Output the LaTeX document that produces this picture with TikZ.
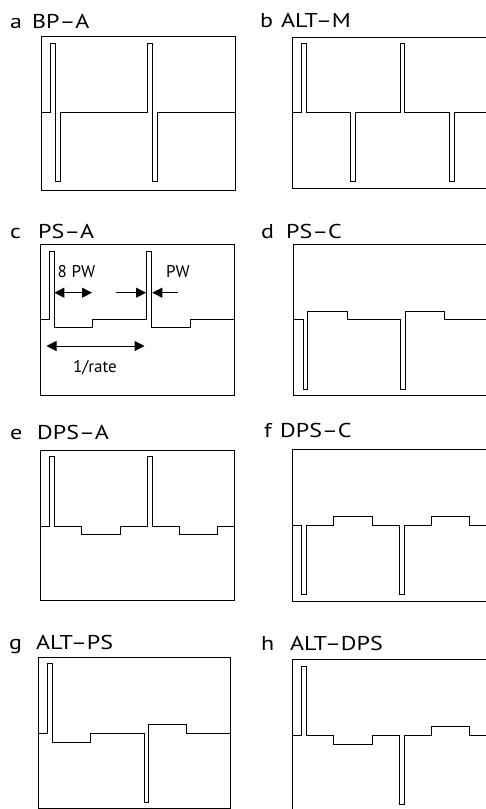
\documentclass[tikz,border=0pt]{standalone}
\usepackage{fontspec}
\setmainfont{PT Sans}
\newfontfamily\ttlfont[FakeStretch=1.2]{PT Sans}
\usetikzlibrary{arrows.meta}
\tikzset{
  frame/.style={line width=1pt},
  wave/.style={line width=1pt, line join=miter},
  ttl/.style={anchor=base west, inner sep=0pt, font=\ttlfont\fontsize{20}{22}\selectfont},
  lbl/.style={inner sep=0pt, font=\fontsize{17}{19}\selectfont},
  dim/.style={line width=1pt, -{Triangle[length=10pt,width=10pt]}},
  ddim/.style={line width=1pt, {Triangle[length=10pt,width=10pt]}-{Triangle[length=10pt,width=10pt]}}
}
\begin{document}
\begin{tikzpicture}[x=1pt,y=-1pt]
\useasboundingbox (0,0) rectangle (486,809);
\clip (0,0) rectangle (486,809);
% ---- a
\node[ttl] (la) at (10,28) {a};
\node[ttl] (ta) at (32,28) {BP–A};
\draw[frame] (41.3,36.7) rectangle (235,190);
\draw[wave] (41.3,112.7) -- (50.7,112.7) -- (50.7,43.3) -- (55.7,43.3) -- (55.7,181.7) -- (60.7,181.7) -- (60.7,112.7)
  -- (147.3,112.7) -- (147.3,43.3) -- (152.3,43.3) -- (152.3,181.7) -- (157.3,181.7) -- (157.3,112.7) -- (235,112.7);
% ---- b
\node[ttl] (lb) at (260,27) {b};
\node[ttl] (tb) at (281,27) {ALT–M};
\draw[frame] (492,37.3) -- (292.3,37.3) -- (292.3,188.7) -- (492,188.7);
\draw[wave] (292.3,112.7) -- (301.7,112.7) -- (301.7,43.3) -- (306,43.3) -- (306,112.7) -- (350.7,112.7) -- (350.7,181.7) -- (355.3,181.7) -- (355.3,112.7)
  -- (400,112.7) -- (400,43.3) -- (404.7,43.3) -- (404.7,112.7) -- (449.3,112.7) -- (449.3,181.7) -- (454.3,181.7) -- (454.3,112.7) -- (492,112.7);
% ---- c
\node[ttl] (lc) at (10,238) {c};
\node[ttl] (tc) at (38,238) {PS–A};
\draw[frame] (40.3,244.3) rectangle (234.3,395);
\draw[wave] (40.3,319) -- (49.3,319) -- (49.3,251) -- (54,251) -- (54,327.3) -- (92.7,327.3) -- (92.7,319)
  -- (146.7,319) -- (146.7,251) -- (151.7,251) -- (151.7,327.3) -- (190,327.3) -- (190,319) -- (234.3,319);
\node[lbl, anchor=west] (pw8) at (57.5,272) {8 PW};
\node[lbl, anchor=west] (pw) at (166,272) {PW};
\node[lbl] (rate) at (95,368) {1/rate};
\coordinate (p8a) at (54.3,292.7);
\coordinate (p8b) at (92,292.7);
\coordinate (pwa) at (116,292.7);
\coordinate (pwb) at (146,292.7);
\coordinate (pwc) at (178,292.7);
\coordinate (pwd) at (152.3,292.7);
\coordinate (ra) at (46.5,346);
\coordinate (rb) at (144.5,346);
\draw[ddim] (p8a) -- (p8b);
\draw[dim] (pwa) -- (pwb);
\draw[dim] (pwc) -- (pwd);
\draw[ddim] (ra) -- (rb);
% ---- d
\node[ttl] (ld) at (261,238) {d};
\node[ttl] (td) at (286,238) {PS–C};
\draw[frame] (492,244.3) -- (293.7,244.3) -- (293.7,395) -- (492,395);
\draw[wave] (293.7,319) -- (303,319) -- (303,389) -- (307.3,389) -- (307.3,311) -- (347,311) -- (347,319)
  -- (400.3,319) -- (400.3,389) -- (405.7,389) -- (405.7,311) -- (444.7,311) -- (444.7,319) -- (492,319);
% ---- e
\node[ttl] (le) at (10,439) {e};
\node[ttl] (te) at (37,439) {DPS–A};
\draw[frame] (40.3,450) rectangle (234.3,600.7);
\draw[wave] (40.3,526) -- (49.3,526) -- (49.3,456.7) -- (54.3,456.7) -- (54.3,526) -- (81,526) -- (81,534) -- (120,534) -- (120,526)
  -- (147,526) -- (147,456.7) -- (152,456.7) -- (152,526) -- (179,526) -- (179,534) -- (217.7,534) -- (217.7,526) -- (234.3,526);
% ---- f
\node[ttl] (lf) at (264,437) {f};
\node[ttl] (tf) at (280,437) {DPS–C};
\draw[frame] (492,449.3) -- (292,449.3) -- (292,601) -- (492,601);
\draw[wave] (292,525.7) -- (301.3,525.7) -- (301.3,594) -- (306.3,594) -- (306.3,525.7) -- (333.7,525.7) -- (333.7,516.7) -- (372.3,516.7) -- (372.3,525.7)
  -- (399,525.7) -- (399,594) -- (404,594) -- (404,525.7) -- (431.3,525.7) -- (431.3,516.7) -- (469.7,516.7) -- (469.7,525.7) -- (492,525.7);
% ---- g
\node[ttl] (lg) at (9,649) {g};
\node[ttl] (tg) at (36,649) {ALT–PS};
\draw[frame] (38.3,657.7) rectangle (230.7,808.3);
\draw[wave] (38.3,733.3) -- (47.7,733.3) -- (47.7,663.3) -- (52.3,663.3) -- (52.3,742.3) -- (90.7,742.3) -- (90.7,733.3)
  -- (144,733.3) -- (144,802.3) -- (148.3,802.3) -- (148.3,724.3) -- (186.7,724.3) -- (186.7,733.3) -- (230.7,733.3);
% ---- h
\node[ttl] (lh) at (261,650) {h};
\node[ttl] (th) at (290,650) {ALT–DPS};
\draw[frame] (492,659.3) -- (292.3,659.3) -- (292.3,815);
\draw[wave] (292.3,735.7) -- (301.7,735.7) -- (301.7,666.7) -- (306.3,666.7) -- (306.3,735.7) -- (333.3,735.7) -- (333.3,744.3) -- (372.3,744.3) -- (372.3,735.7)
  -- (399.7,735.7) -- (399.7,804) -- (404,804) -- (404,735.7) -- (431.3,735.7) -- (431.3,726.7) -- (469.7,726.7) -- (469.7,735.7) -- (492,735.7);
\end{tikzpicture}
\end{document}
